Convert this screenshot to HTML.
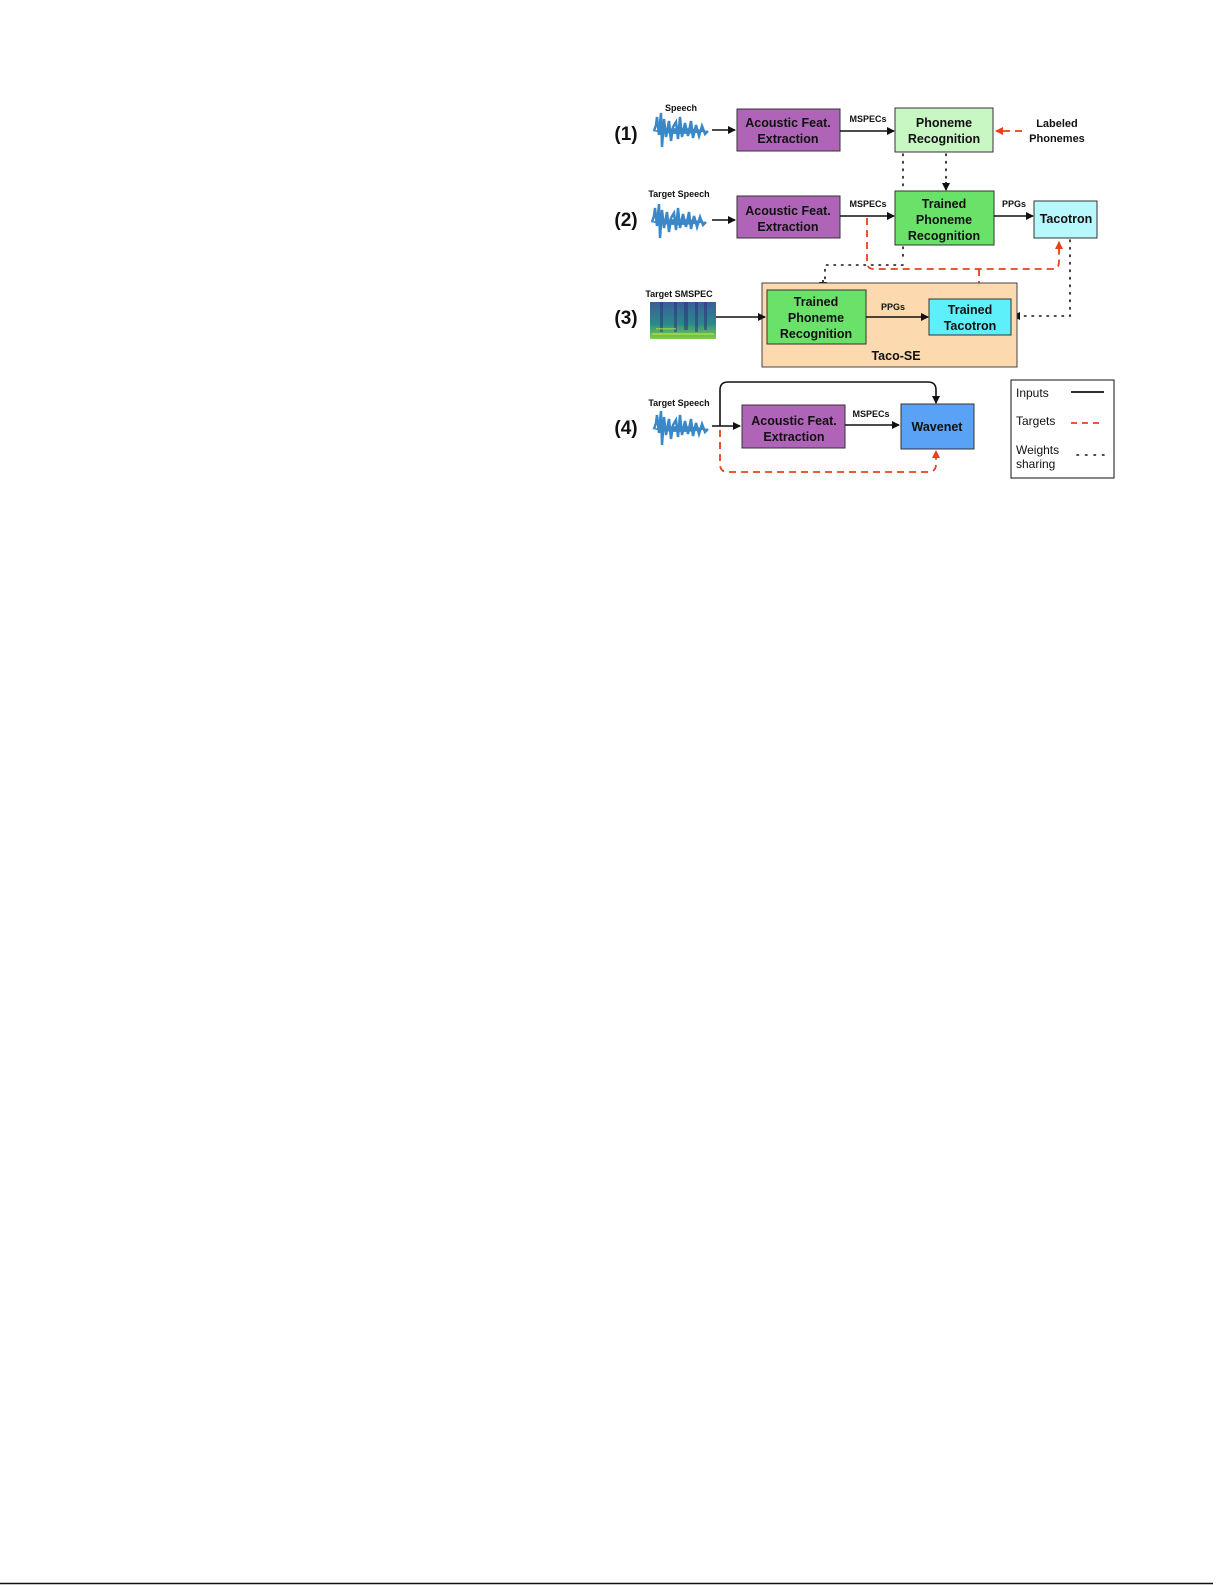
<!DOCTYPE html>
<html><head><meta charset="utf-8"><style>
html,body{margin:0;padding:0;background:#fff;}
svg{display:block;}
text{font-family:"Liberation Sans",sans-serif;}
.b{font-weight:bold;font-size:12.5px;text-anchor:middle;fill:#111;}
.s{font-weight:bold;font-size:9px;text-anchor:middle;fill:#111;}
.n{font-weight:bold;font-size:19px;text-anchor:middle;fill:#111;}
.box{stroke:#333;stroke-width:1;}
.ln{stroke:#111;stroke-width:1.6;fill:none;}
.rd{stroke:#e8401c;stroke-width:1.8;fill:none;stroke-dasharray:7,5;}
.dt{stroke:#111;stroke-width:1.6;fill:none;stroke-dasharray:1.5,6;stroke-linecap:round;}
</style></head><body>
<svg width="1225" height="1585" viewBox="0 0 1225 1585" xmlns="http://www.w3.org/2000/svg">
<defs>
<marker id="ab" markerWidth="8" markerHeight="8" refX="7" refY="4" orient="auto" markerUnits="userSpaceOnUse"><path d="M0,0 L8,4 L0,8 z" fill="#111"/></marker>
<marker id="ar" markerWidth="8" markerHeight="8" refX="7" refY="4" orient="auto" markerUnits="userSpaceOnUse"><path d="M0,0 L8,4 L0,8 z" fill="#e8401c"/></marker>
<g id="wave">
<path d="M0,0 Q28,-6 56,0 Q28,6 0,0 z" fill="#3a88c8"/>
<path d="M2,0 L4,-6 L5,-14 L7,4 L9,-18 L10,16 L12,-12 L14,6 L17,-10 L19,10 L21,-4 L24,-9 L26,8 L28,-14 L30,6 L33,-8 L36,5 L39,-10 L41,7 L44,-6 L47,5 L50,-5 L53,3 L56,0" stroke="#3a88c8" stroke-width="2.5" fill="none"/>
</g>
</defs>
<!-- Row 1 -->
<text class="n" x="626" y="140">(1)</text>
<text class="s" x="681" y="111">Speech</text>
<use href="#wave" x="652" y="131"/>
<line class="ln" x1="712" y1="130" x2="735" y2="130" marker-end="url(#ab)"/>
<rect class="box" x="737" y="109" width="103" height="42" fill="#b064b8"/>
<text class="b" x="788" y="127">Acoustic Feat.</text><text class="b" x="788" y="143">Extraction</text>
<text class="s" x="868" y="122">MSPECs</text>
<line class="ln" x1="840" y1="131" x2="894" y2="131" marker-end="url(#ab)"/>
<rect class="box" x="895" y="108" width="98" height="44" fill="#c8f7c4"/>
<text class="b" x="944" y="127">Phoneme</text><text class="b" x="944" y="143">Recognition</text>
<line class="rd" x1="1022" y1="131" x2="996" y2="131" marker-end="url(#ar)"/>
<text class="s" x="1057" y="127" style="font-size:11px">Labeled</text>
<text class="s" x="1057" y="142" style="font-size:11px">Phonemes</text>
<line class="dt" x1="903" y1="154" x2="903" y2="190"/>
<line class="dt" x1="946" y1="154" x2="946" y2="182"/>
<line class="ln" x1="946" y1="182" x2="946" y2="190" marker-end="url(#ab)"/>
<!-- Row 2 -->
<text class="n" x="626" y="226">(2)</text>
<text class="s" x="679" y="197">Target Speech</text>
<use href="#wave" x="650" y="222"/>
<line class="ln" x1="712" y1="220" x2="735" y2="220" marker-end="url(#ab)"/>
<rect class="box" x="737" y="196" width="103" height="42" fill="#b064b8"/>
<text class="b" x="788" y="215">Acoustic Feat.</text><text class="b" x="788" y="231">Extraction</text>
<text class="s" x="868" y="207">MSPECs</text>
<line class="ln" x1="840" y1="216" x2="894" y2="216" marker-end="url(#ab)"/>
<rect class="box" x="895" y="191" width="99" height="54" fill="#6ae26a"/>
<text class="b" x="944" y="208">Trained</text><text class="b" x="944" y="224">Phoneme</text><text class="b" x="944" y="240">Recognition</text>
<text class="s" x="1014" y="207">PPGs</text>
<line class="ln" x1="994" y1="216" x2="1033" y2="216" marker-end="url(#ab)"/>
<rect class="box" x="1034" y="201" width="63" height="37" fill="#b6f8fb"/>
<text class="b" x="1066" y="223">Tacotron</text>
<path class="rd" d="M867,218 V262 Q867,269 874,269 H1052 Q1059,269 1059,262 V242" marker-end="url(#ar)"/>
<path class="rd" d="M979,269 V296" marker-end="url(#ar)"/>
<path class="dt" d="M903,247 V262 M903,265 H825 V280"/>
<line class="ln" x1="823" y1="280" x2="823" y2="289" marker-end="url(#ab)"/>
<path class="dt" d="M1070,240 V316 H1022"/>
<line class="ln" x1="1020" y1="316" x2="1013" y2="316" marker-end="url(#ab)"/>
<!-- Row 3 -->
<rect x="762" y="283" width="255" height="84" fill="#fcd9ae" stroke="#444" stroke-width="1"/>
<text class="n" x="626" y="324">(3)</text>
<text class="s" x="679" y="297">Target SMSPEC</text>
<defs><linearGradient id="sp" x1="0" y1="0" x2="0" y2="1"><stop offset="0" stop-color="#3a5e9a"/><stop offset="0.6" stop-color="#2a8a8a"/><stop offset="1" stop-color="#7ed04a"/></linearGradient></defs>
<rect x="650" y="302" width="66" height="37" fill="url(#sp)"/>
<g fill="#2d2f78" opacity="0.5"><rect x="660" y="302" width="3" height="30"/><rect x="674" y="302" width="3" height="30"/><rect x="684" y="302" width="4" height="28"/><rect x="695" y="302" width="3" height="30"/><rect x="704" y="302" width="3" height="28"/></g>
<g fill="#b8e840" opacity="0.6"><rect x="652" y="333" width="62" height="2"/><rect x="656" y="328" width="20" height="1.5"/></g>
<line class="ln" x1="716" y1="317" x2="765" y2="317" marker-end="url(#ab)"/>
<rect class="box" x="767" y="290" width="99" height="54" fill="#6ae26a"/>
<text class="b" x="816" y="306">Trained</text><text class="b" x="816" y="322">Phoneme</text><text class="b" x="816" y="338">Recognition</text>
<text class="s" x="893" y="310">PPGs</text>
<line class="ln" x1="866" y1="317" x2="928" y2="317" marker-end="url(#ab)"/>
<rect class="box" x="929" y="299" width="82" height="36" fill="#5ef0fa"/>
<text class="b" x="970" y="314">Trained</text><text class="b" x="970" y="330">Tacotron</text>
<text class="b" x="896" y="360">Taco-SE</text>
<!-- Row 4 -->
<text class="n" x="626" y="434">(4)</text>
<text class="s" x="679" y="406">Target Speech</text>
<use href="#wave" x="652" y="429"/>
<line class="ln" x1="712" y1="426" x2="740" y2="426" marker-end="url(#ab)"/>
<rect class="box" x="742" y="405" width="103" height="43" fill="#b064b8"/>
<text class="b" x="794" y="425">Acoustic Feat.</text><text class="b" x="794" y="441">Extraction</text>
<text class="s" x="871" y="417">MSPECs</text>
<line class="ln" x1="845" y1="425" x2="899" y2="425" marker-end="url(#ab)"/>
<rect class="box" x="901" y="404" width="73" height="45" fill="#5aa2f6"/>
<text class="b" x="937" y="431">Wavenet</text>
<path class="ln" d="M720,426 V390 Q720,382 728,382 H928 Q936,382 936,390 V403" marker-end="url(#ab)"/>
<path class="rd" d="M720,430 V464 Q720,472 728,472 H928 Q936,472 936,464 V451" marker-end="url(#ar)"/>
<!-- Legend -->
<rect x="1011" y="380" width="103" height="98" fill="#fff" stroke="#111" stroke-width="1"/>
<text x="1016" y="397" font-size="12" fill="#111">Inputs</text>
<line x1="1071" y1="392" x2="1104" y2="392" stroke="#111" stroke-width="1.8"/>
<text x="1016" y="425" font-size="12" fill="#111">Targets</text>
<line x1="1071" y1="423" x2="1104" y2="423" stroke="#e8401c" stroke-width="1.8" stroke-dasharray="6,5"/>
<text x="1016" y="454" font-size="12" fill="#111">Weights</text>
<text x="1016" y="468" font-size="12" fill="#111">sharing</text>
<line x1="1077" y1="455" x2="1104" y2="455" stroke="#111" stroke-width="1.6" stroke-dasharray="1.5,7" stroke-linecap="round"/>
<!-- bottom rule -->
<line x1="0" y1="1583.5" x2="1213" y2="1583.5" stroke="#111" stroke-width="1.5"/>
</svg>
</body></html>
